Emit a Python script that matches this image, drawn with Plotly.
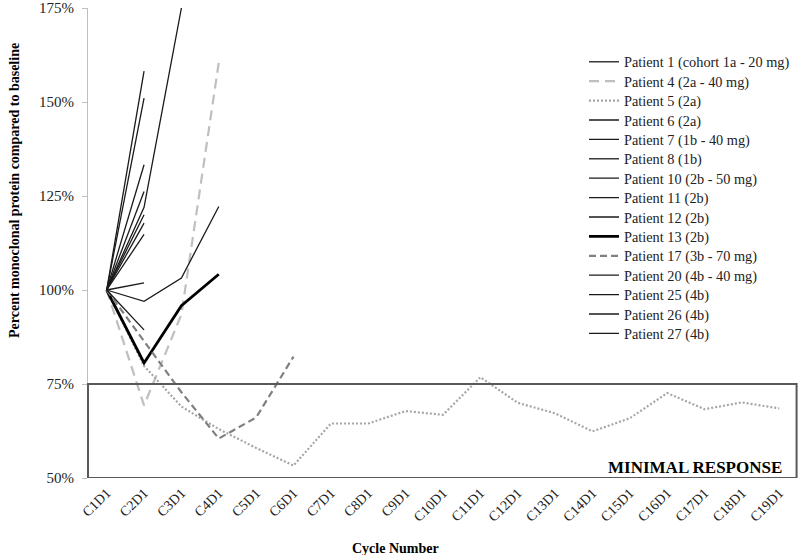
import plotly.graph_objects as go

cycles = ["C1D1", "C2D1", "C3D1", "C4D1", "C5D1", "C6D1", "C7D1", "C8D1", "C9D1", "C10D1",
          "C11D1", "C12D1", "C13D1", "C14D1", "C15D1", "C16D1", "C17D1", "C18D1", "C19D1"]

patient_names = ["Patient 1 (cohort 1a - 20 mg)", "Patient 4 (2a - 40 mg)", "Patient 5 (2a)",
                 "Patient 6 (2a)", "Patient 7 (1b - 40 mg)", "Patient 8 (1b)",
                 "Patient 10 (2b - 50 mg)", "Patient 11 (2b)", "Patient 12 (2b)",
                 "Patient 13 (2b)", "Patient 17 (3b - 70 mg)", "Patient 20 (4b - 40 mg)",
                 "Patient 25 (4b)", "Patient 26 (4b)", "Patient 27 (4b)"]

p1 = [100, 122, 175]
p4 = [100, 69.3, 93.5, 160.5]
p5 = [100, 79.8, 69.0, 63.0, 58.0, 53.3, 64.5, 64.5, 67.8, 66.8, 76.8, 70.0, 67.2, 62.4,
      65.9, 72.6, 68.3, 70.1, 68.5]
p6 = [100, 97.0, 103.2, 122.2]
p7 = [100, 158.2]
p8 = [100, 151.0]
p10 = [100, 133.3]
p11 = [100, 126.2]
p12 = [100, 117.8]
p13 = [100, 80.6, 95.8, 104.2]
p17 = [100, 86.5, 72.8, 60.5, 66.1, 82.3]
p20 = [100, 114.8]
p25 = [100, 120.0]
p26 = [100, 101.9]
p27 = [100, 89.4]

y_ticks = [50, 75, 100, 125, 150, 175]
y_tick_labels = ["50%", "75%", "100%", "125%", "150%", "175%"]

series = [p1, p4, p5, p6, p7, p8, p10, p11, p12, p13, p17, p20, p25, p26, p27]

thin = dict(color="#1a1a1a", width=1.3)
styles = [
    thin,
    dict(color="#bfbfbf", width=2.2, dash="10px,6px"),
    dict(color="#a6a6a6", width=2.2, dash="2px,2px"),
    thin, thin, thin, thin, thin, thin,
    dict(color="#000000", width=2.8),
    dict(color="#808080", width=2.2, dash="7px,4px"),
    thin, thin, thin, thin,
]

FONT = "Liberation Serif"
W, H = 800, 555
L, R, T, B = 88, 2, 8, 77
PW, PH = W - L - R, H - T - B


def px_to_paper_x(px):
    return (px - L) / PW


def px_to_paper_y(py):
    return (H - B - py) / PH


fig = go.Figure()
legend_layouts = {}
for i, (name, vals, st) in enumerate(zip(patient_names, series, styles)):
    key = "legend" if i == 0 else f"legend{i + 1}"
    fig.add_trace(go.Scatter(x=cycles[:len(vals)], y=vals, mode="lines", name=name, line=st,
                             legend=key))
    legend_layouts[key] = dict(
        x=px_to_paper_x(584), y=px_to_paper_y(62 + i * 19.4),
        xanchor="left", yanchor="middle", bgcolor="rgba(0,0,0,0)",
        font=dict(family=FONT, size=14.3, color="#222222"))

fig.add_shape(type="rect", xref="paper", yref="y", x0=0, x1=0.998, y0=50, y1=75,
              line=dict(color="#595959", width=2), fillcolor="rgba(0,0,0,0)", layer="above")

fig.add_annotation(text="<b>MINIMAL RESPONSE</b>", xref="paper", yref="y",
                   x=px_to_paper_x(784), y=52.9,
                   xanchor="right", yanchor="middle", showarrow=False,
                   font=dict(family=FONT, size=17, color="#000000"))

fig.add_annotation(text="<b>Percent monoclonal protein compared to baseline</b>", xref="paper",
                   yref="paper", x=px_to_paper_x(15), y=px_to_paper_y(191),
                   xanchor="center", yanchor="middle",
                   textangle=-90, showarrow=False, font=dict(family=FONT, size=14, color="#000000"))

fig.add_annotation(text="<b>Cycle Number</b>", xref="paper", yref="paper",
                   x=px_to_paper_x(395), y=px_to_paper_y(548),
                   xanchor="center", yanchor="middle", showarrow=False,
                   font=dict(family=FONT, size=14, color="#000000"))

fig.update_layout(
    width=W, height=H,
    margin=dict(l=L, r=R, t=T, b=B, autoexpand=False),
    paper_bgcolor="white", plot_bgcolor="white",
    font=dict(family=FONT, size=14, color="#222222"),
    showlegend=True,
    xaxis=dict(type="category", categoryorder="array", categoryarray=cycles,
               range=[-0.5, 18.5], showgrid=False, zeroline=False, showline=False,
               automargin=False, ticklabelstandoff=3,
               tickangle=-45, ticks="", tickfont=dict(family=FONT, size=14, color="#222222")),
    yaxis=dict(range=[50, 175], tickvals=y_ticks, ticktext=y_tick_labels, showgrid=False,
               zeroline=False, showline=True, linecolor="#bfbfbf", linewidth=1,
               automargin=False, ticklabeloverflow="allow", ticklabelstandoff=5,
               ticks="outside", ticklen=5, tickcolor="#bfbfbf",
               tickfont=dict(family=FONT, size=15, color="#222222")),
    **legend_layouts,
)

fig.write_html("out.html", config={"displayModeBar": False},
               post_script="document.body.style.margin='0px';document.body.style.overflow='hidden';")
